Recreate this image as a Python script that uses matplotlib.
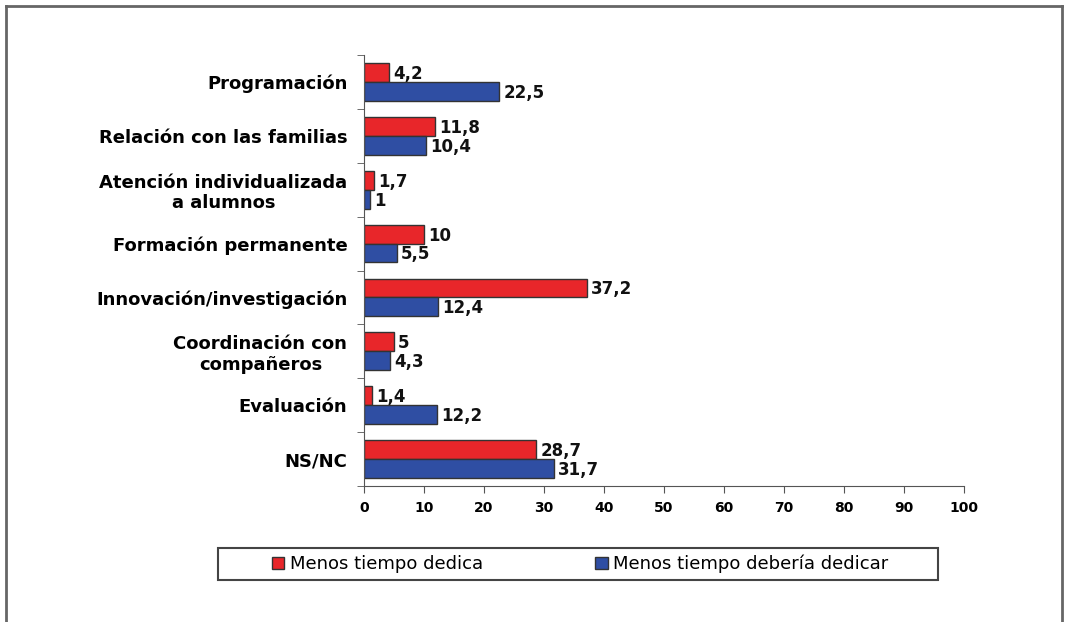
import matplotlib.pyplot as plt
from matplotlib.lines import Line2D
from matplotlib.patches import Rectangle, Patch
import numpy as np

categories = ["Programación", "Relación con las familias",
              "Atención individualizada\na alumnos", "Formación permanente",
              "Innovación/investigación", "Coordinación con\ncompañeros",
              "Evaluación", "NS/NC"]
dedica = [4.2, 11.8, 1.7, 10, 37.2, 5, 1.4, 28.7]
deberia = [22.5, 10.4, 1, 5.5, 12.4, 4.3, 12.2, 31.7]
series_names = ["Menos tiempo dedica", "Menos tiempo debería dedicar"]
xticks = [0, 10, 20, 30, 40, 50, 60, 70, 80, 90, 100]

red = "#e8262a"
blue = "#2f4ea3"

def fmt(v):
    # spanish decimal comma
    s = ("%g" % v)
    return s.replace(".", ",")

fig = plt.figure(figsize=(10.65, 6.22), dpi=100)
ax = fig.add_axes([364/1065, 1 - 486/622, 600/1065, 431/622])

y = np.arange(len(categories))
h = 0.35
b1 = ax.barh(y - h/2, dedica, height=h, color=red, edgecolor="#333333", linewidth=1)
b2 = ax.barh(y + h/2, deberia, height=h, color=blue, edgecolor="#333333", linewidth=1)

for bars, vals in [(b1, dedica), (b2, deberia)]:
    for bar, v in zip(bars, vals):
        ax.annotate(fmt(v), (v, bar.get_y() + bar.get_height()/2),
                    xytext=(3, -1), textcoords="offset points",
                    va="center", ha="left", fontsize=12, fontweight="bold",
                    color="#111111")

ax.set_xlim(0, 100)
ax.set_ylim(len(categories) - 0.5, -0.5)
ax.set_xticks(xticks)
ax.set_xticklabels([str(t) for t in xticks], fontsize=10, fontweight="bold")
ax.set_yticks(y)
ax.set_yticklabels(categories, fontsize=13, fontweight="bold", multialignment="center")
ax.tick_params(axis="y", length=0, pad=12)
ax.set_yticks(np.arange(-0.5, len(categories)), minor=True)
ax.tick_params(axis="y", which="minor", length=5, color="#555555")
ax.tick_params(axis="x", length=5, color="#555555", pad=6)

for s in ["top", "right"]:
    ax.spines[s].set_visible(False)
ax.spines["left"].set_color("#555555")
ax.spines["bottom"].set_color("#555555")

# legend box
fig.patches.append(Rectangle((218/1065, 1 - 580/622), 720/1065, 32/622,
                             transform=fig.transFigure, fill=False,
                             edgecolor="#444444", linewidth=1.5))
handles = [Patch(facecolor=red, edgecolor="#333333"), Patch(facecolor=blue, edgecolor="#333333")]
fig.legend(handles, series_names, loc="center", bbox_to_anchor=(580/1065, 1 - 564/622),
           ncol=2, frameon=False, fontsize=13, handlelength=0.7, handleheight=0.7,
           handletextpad=0.3, columnspacing=6.2)

# outer frame (no bottom edge)
c = "#666666"
fig.add_artist(Line2D([6/1065, 6/1065], [0, 1 - 6/622], transform=fig.transFigure, color=c, lw=2))
fig.add_artist(Line2D([1062/1065, 1062/1065], [0, 1 - 6/622], transform=fig.transFigure, color=c, lw=2))
fig.add_artist(Line2D([6/1065, 1062/1065], [1 - 6/622, 1 - 6/622], transform=fig.transFigure, color=c, lw=2))

fig.savefig("out.png", dpi=100)
